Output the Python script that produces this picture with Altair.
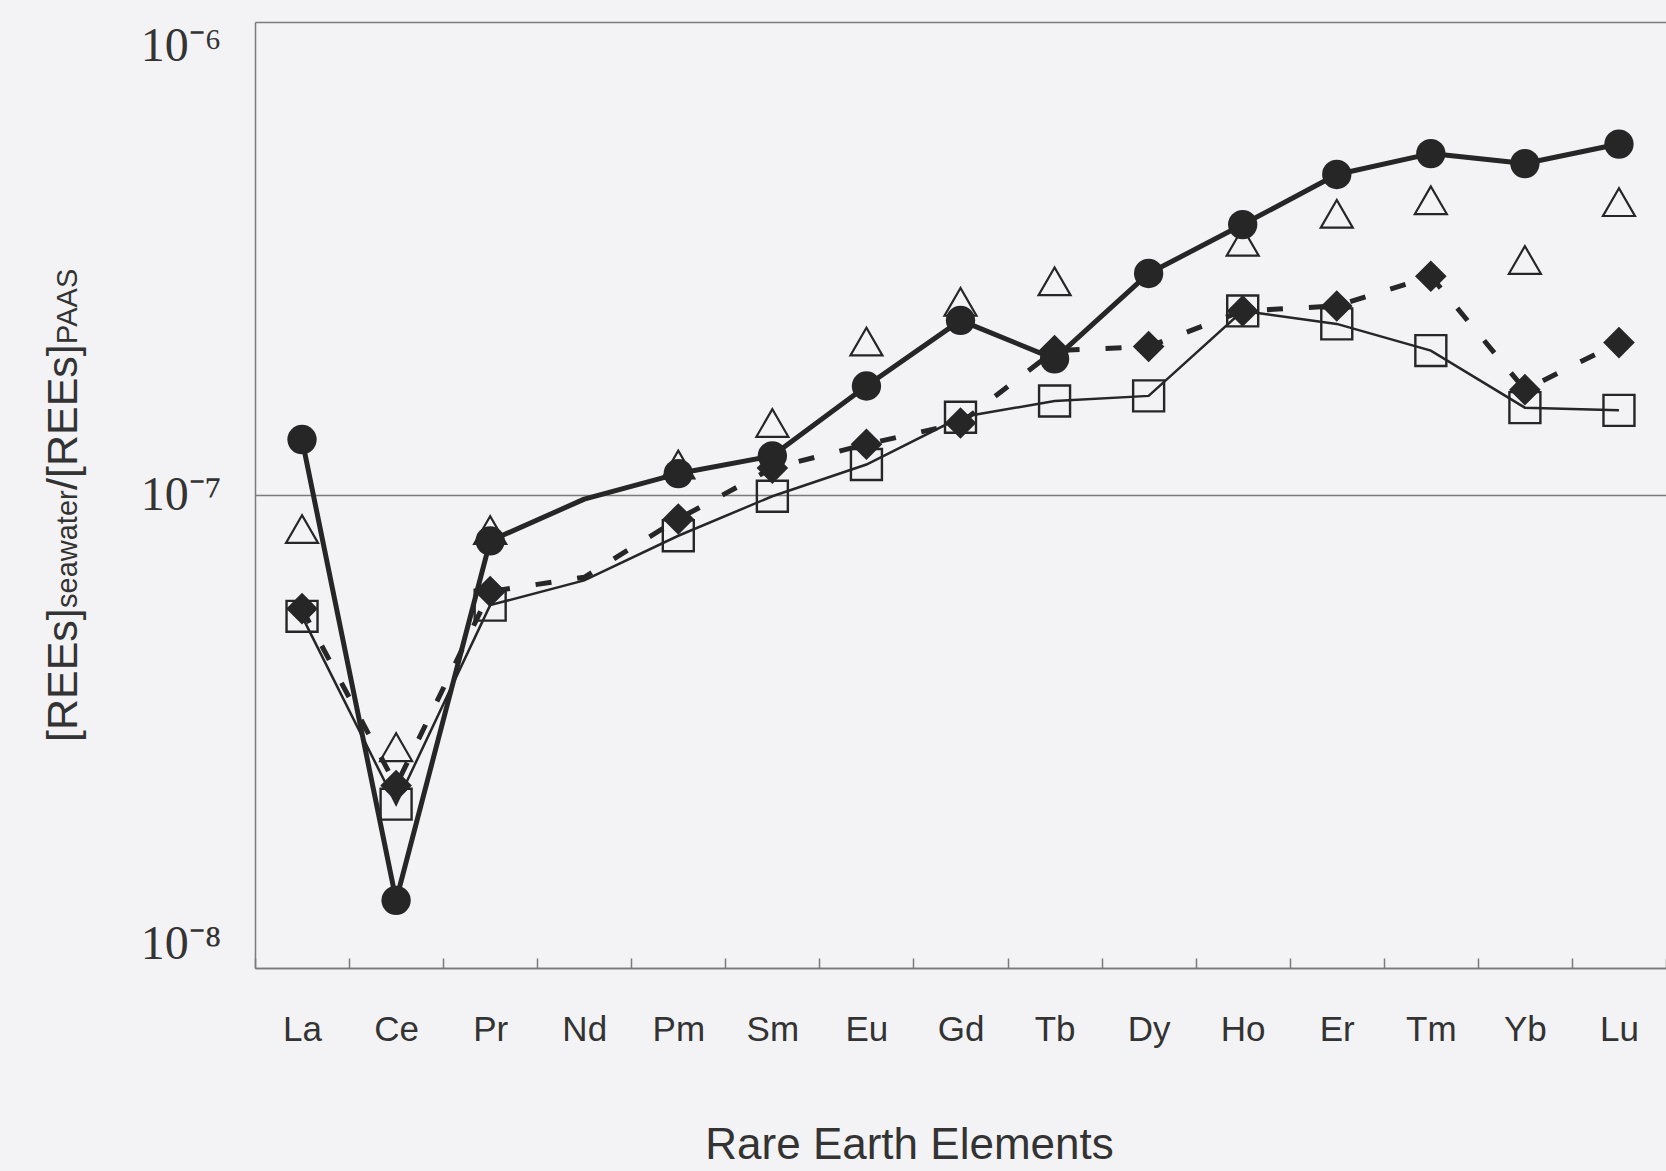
import altair as alt
import pandas as pd

# Rare earth elements in atomic order
elements = ["La", "Ce", "Pr", "Nd", "Pm", "Sm", "Eu", "Gd",
            "Tb", "Dy", "Ho", "Er", "Tm", "Yb", "Lu"]

# PAAS-normalised seawater concentrations (Nd: line vertex only, no symbol)
circle_vals = [1.31e-7, 1.39e-8, 8.0e-8, 9.8e-8, 1.11e-7, 1.21e-7, 1.70e-7, 2.34e-7,
               1.94e-7, 2.94e-7, 3.73e-7, 4.76e-7, 5.27e-7, 5.02e-7, 5.52e-7]
diamond_vals = [5.75e-8, 2.43e-8, 6.25e-8, 6.7e-8, 8.9e-8, 1.14e-7, 1.28e-7, 1.42e-7,
                2.02e-7, 2.06e-7, 2.45e-7, 2.51e-7, 2.90e-7, 1.67e-7, 2.10e-7]
square_vals = [5.54e-8, 2.22e-8, 5.85e-8, 6.6e-8, 8.2e-8, 9.94e-8, 1.16e-7, 1.46e-7,
               1.58e-7, 1.62e-7, 2.45e-7, 2.30e-7, 2.02e-7, 1.53e-7, 1.51e-7]
triangle_vals = [8.47e-8, 2.93e-8, 8.43e-8, None, 1.16e-7, 1.42e-7, 2.11e-7, 2.56e-7,
                 2.83e-7, None, 3.43e-7, 3.93e-7, 4.20e-7, 3.14e-7, 4.16e-7]
no_symbol = ["Nd"]

y_ticks = [1e-8, 1e-7, 1e-6]
y_tick_labels = ["10⁻⁸", "10⁻⁷", "10⁻⁶"]
x_title = "Rare Earth Elements"
y_title_parts = ["[REEs]", "seawater", "/[REEs]", "PAAS"]

INK = "#262626"
FRAME = "#7a7a7a"


def frame(vals):
    df = pd.DataFrame({"element": elements, "value": vals})
    df = df.dropna()
    df["symbol"] = ~df["element"].isin(no_symbol)
    return df


label_expr = " : ".join(
    f"datum.value < {v * 3:.1e} ? '{t}'" for v, t in zip(y_ticks[:-1], y_tick_labels[:-1])
) + f" : '{y_tick_labels[-1]}'"

x_enc = alt.X(
    "element:N",
    sort=elements,
    scale=alt.Scale(type="band", domain=elements, paddingInner=0, paddingOuter=0),
    axis=alt.Axis(
        title=x_title,
        titleFont="Liberation Sans",
        titleFontSize=44,
        titleFontWeight="normal",
        titleColor="#333333",
        titleX=654,
        titleY=190,
        titleBaseline="alphabetic",
        labelFont="Liberation Sans",
        labelFontSize=35,
        labelColor="#333333",
        labelAngle=0,
        labelPadding=54,
        tickBand="extent",
        tickSize={"expr": "-10"},
        tickColor=FRAME,
        tickWidth=1.5,
        domainColor=FRAME,
        domainWidth=1.5,
        grid=False,
    ),
)

y_enc = alt.Y(
    "value:Q",
    scale=alt.Scale(type="log", domain=[y_ticks[0], y_ticks[-1]]),
    axis=alt.Axis(
        title=None,
        values=y_ticks,
        labelExpr=label_expr,
        labelFont="Liberation Serif",
        labelFontSize=48,
        labelColor="#333333",
        labelFlush=True,
        labelPadding=34,
        tickSize=0,
        domainColor=FRAME,
        domainWidth=1.5,
        grid=True,
        gridColor=FRAME,
        gridWidth=1.3,
    ),
)

sq = frame(square_vals)
dm = frame(diamond_vals)
tr = frame(triangle_vals)
ci = frame(circle_vals)

square_line = alt.Chart(sq).mark_line(color=INK, strokeWidth=2.5).encode(x=x_enc, y=y_enc)
square_pts = alt.Chart(sq).transform_filter("datum.symbol").mark_point(
    shape="square", filled=False, size=960, color=INK, strokeWidth=2.4, opacity=1
).encode(x=x_enc, y=y_enc)

diamond_line = alt.Chart(dm).mark_line(
    color=INK, strokeWidth=5, strokeDash=[16, 26]
).encode(x=x_enc, y=y_enc)
diamond_pts = alt.Chart(dm).transform_filter("datum.symbol").mark_point(
    shape="diamond", filled=True, size=1000, color=INK, opacity=1
).encode(x=x_enc, y=y_enc)

triangle_pts = alt.Chart(tr).transform_filter("datum.symbol").mark_point(
    shape="triangle-up", filled=False, size=1024, color=INK, strokeWidth=2.2, opacity=1
).encode(x=x_enc, y=y_enc)

circle_line = alt.Chart(ci).mark_line(
    color=INK, strokeWidth=5, strokeJoin="round"
).encode(x=x_enc, y=y_enc)
circle_pts = alt.Chart(ci).transform_filter("datum.symbol").mark_circle(
    size=860, color=INK, opacity=1
).encode(x=x_enc, y=y_enc)

# Rotated y-axis title built from normal-size and subscript pieces
title_layers = []
title_specs = [
    (y_title_parts[0], 43, 720),
    (y_title_parts[1], 29, 586),
    (y_title_parts[2], 43, 468),
    (y_title_parts[3], 29, 322),
]
for text, size, ypos in title_specs:
    title_layers.append(
        alt.Chart(pd.DataFrame({"t": [text]})).mark_text(
            angle=270, align="left", baseline="alphabetic",
            font="Liberation Sans", fontSize=size, color="#333333",
        ).encode(text="t:N", x=alt.value(-178), y=alt.value(ypos))
    )

chart = alt.layer(
    square_line, square_pts, diamond_line, diamond_pts,
    triangle_pts, circle_line, circle_pts, *title_layers
).properties(
    width=1411,
    height=946,
    padding={"left": 255, "top": 22, "right": 0, "bottom": 203},
    autosize=alt.AutoSizeParams(type="none"),
    background="#f3f3f5",
).configure_view(stroke=None)

chart.save("out.html", embed_options={"renderer": "svg", "actions": False})
